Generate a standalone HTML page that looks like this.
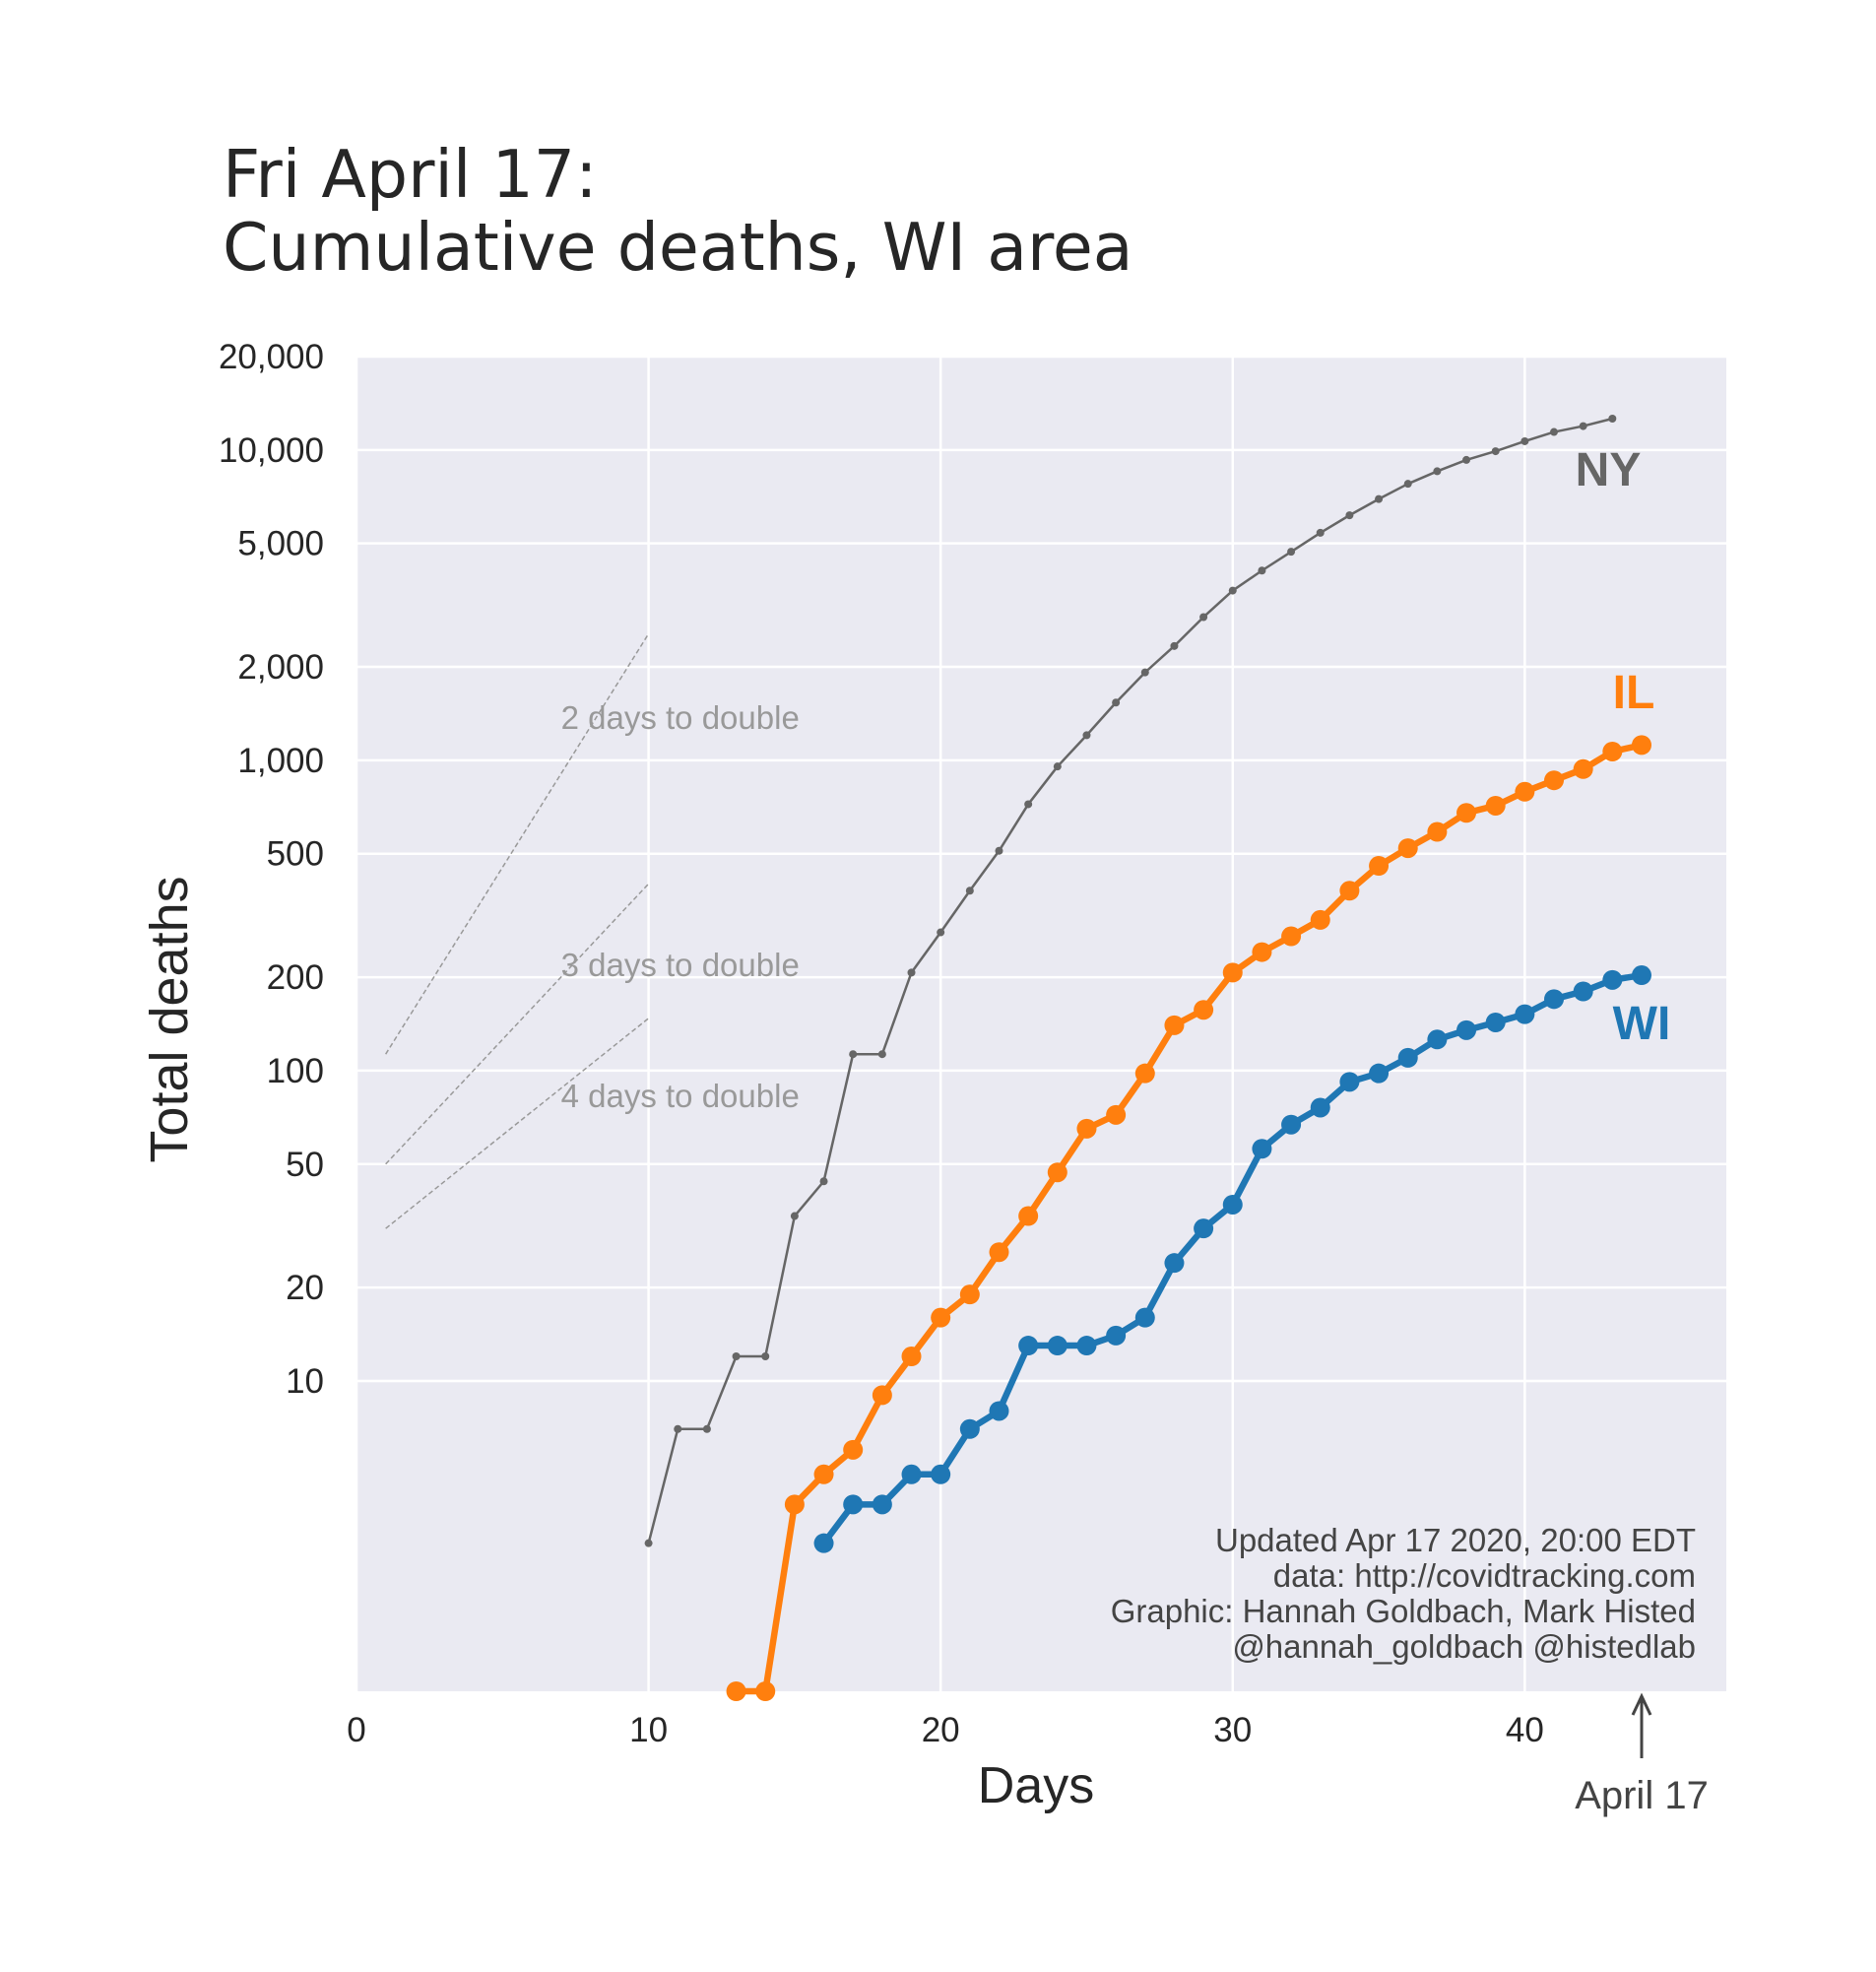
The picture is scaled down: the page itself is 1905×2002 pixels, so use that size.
<!DOCTYPE html>
<html><head><meta charset="utf-8"><style>
html,body{margin:0;padding:0;background:#fff;}
svg{display:block;font-family:"Liberation Sans","DejaVu Sans",sans-serif;}
</style></head><body>
<svg id="chart" width="1905" height="2002" viewBox="0 0 1905 2002" xmlns="http://www.w3.org/2000/svg">
<rect width="1905" height="2002" fill="#fff"/>
<text x="226" y="200" font-size="66.5" fill="#262626" font-family="'DejaVu Sans',sans-serif">Fri April 17:</text>
<text x="226" y="274" font-size="66.5" fill="#262626" font-family="'DejaVu Sans',sans-serif">Cumulative deaths, WI area</text>
<rect x="362" y="362" width="1391" height="1355" fill="#eaeaf2"/>
<g id="grid"></g><g id="marks"></g><g id="ticks"></g>
<text transform="translate(190,1035) rotate(-90)" text-anchor="middle" font-size="54" fill="#262626">Total deaths</text>
<text x="1052" y="1830" text-anchor="middle" font-size="52" fill="#262626">Days</text>
<line x1="1667" y1="1785" x2="1667" y2="1724" stroke="#444" stroke-width="3"/>
<path d="M1658 1741 L1667 1722 L1676 1741" fill="none" stroke="#444" stroke-width="3"/>
<text x="1667" y="1836" text-anchor="middle" font-size="40" fill="#444">April 17</text>
<g font-size="33" fill="#444" text-anchor="end">
<text x="1722" y="1575">Updated Apr 17 2020, 20:00 EDT</text>
<text x="1722" y="1611">data: http://covidtracking.com</text>
<text x="1722" y="1647">Graphic: Hannah Goldbach, Mark Histed</text>
<text x="1722" y="1683">@hannah_goldbach @histedlab</text>
</g>
</svg>
<script>
const nyDays=[10,11,12,13,14,15,16,17,18,19,20,21,22,23,24,25,26,27,28,29,30,31,32,33,34,35,36,37,38,39,40,41,42,43];
const nyVals=[3,7,7,12,12,34,44,113,113,207,279,380,511,722,955,1205,1535,1920,2335,2894,3523,4087,4700,5410,6160,6950,7780,8540,9290,9910,10670,11430,11940,12620];
const ilDays=[13,14,15,16,17,18,19,20,21,22,23,24,25,26,27,28,29,30,31,32,33,34,35,36,37,38,39,40,41,42,43,44];
const ilVals=[1,1,4,5,6,9,12,16,19,26,34,47,65,72,98,140,157,207,241,271,306,380,457,521,588,677,714,792,862,937,1067,1120];
const wiDays=[16,17,18,19,20,21,22,23,24,25,26,27,28,29,30,31,32,33,34,35,36,37,38,39,40,41,42,43,44];
const wiVals=[3,4,4,5,5,7,8,13,13,13,14,16,24,31,37,56,67,76,92,98,110,126,135,143,152,170,180,196,203];
const xTicks=[0,10,20,30,40];
const yTicks=[10,20,50,100,200,500,1000,2000,5000,10000,20000];
const yTickLabels=["10","20","50","100","200","500","1,000","2,000","5,000","10,000","20,000"];
const doubleDays=[2,3,4];
const doubleStart=[113,50,31];
const L=362,R=1753,T=362,B=1717,XMAX=46.9,YMAX=Math.log10(20000);
const X=d=>L+d/XMAX*(R-L);
const Y=v=>B-Math.log10(v)/YMAX*(B-T);
const NS="http://www.w3.org/2000/svg";
function mk(tag,attrs,parent,text){const e=document.createElementNS(NS,tag);for(const k in attrs)e.setAttribute(k,attrs[k]);if(text!==undefined)e.textContent=text;parent.appendChild(e);return e;}
const grid=document.getElementById('grid'),marks=document.getElementById('marks'),ticks=document.getElementById('ticks');
xTicks.forEach(d=>{
 const g=mk('line',{x1:X(d),x2:X(d),y1:T,y2:B,stroke:'#fff','stroke-width':2.5},grid);
 
 
 const t=mk('text',{x:X(d),y:1768,'text-anchor':'middle','font-size':35,fill:'#262626'},ticks,String(d));
 
 
});
yTicks.forEach((v,i)=>{
 const g=mk('line',{x1:L,x2:R,y1:Y(v),y2:Y(v),stroke:'#fff','stroke-width':2.5},grid);
 
 
 const t=mk('text',{x:329,y:Y(v)+12,'text-anchor':'end','font-size':35,fill:'#262626'},ticks,yTickLabels[i]);
 
 
});
const labelY={2:740,3:991,4:1124};
doubleDays.forEach((dd,i)=>{
 const v0=doubleStart[i],v1=v0*Math.pow(2,9/dd);
 const l=mk('line',{x1:X(1),y1:Y(v0),x2:X(10),y2:Y(v1),stroke:'#999','stroke-width':1.5,'stroke-dasharray':'5,3'},marks);
 
 
 const t=mk('text',{x:X(7),y:labelY[dd],'font-size':33,fill:'#999'},marks,dd+' days to double');
 
 
});
function series(days,vals,color,lw,r,name){
 const pts=days.map((d,i)=>X(d)+','+Y(vals[i])).join(' ');
 const p=mk('polyline',{points:pts,fill:'none',stroke:color,'stroke-width':lw,'stroke-linejoin':'round'},marks);
 
 
 days.forEach((d,i)=>{
  const c=mk('circle',{cx:X(d),cy:Y(vals[i]),r:r,fill:color},marks);
  
  
 });
}
series(nyDays,nyVals,'#666',2.5,4,'ny');
series(ilDays,ilVals,'#ff7f0e',6.5,10,'il');
series(wiDays,wiVals,'#1f77b4',6.5,10,'wi');
const labs=[['NY','#666',1633,493],['IL','#ff7f0e',1659,719],['WI','#1f77b4',1667,1055]];
labs.forEach(a=>{
 const t=mk('text',{x:a[2],y:a[3],'text-anchor':'middle','font-size':48,'font-weight':'bold',fill:a[1]},marks,a[0]);
 
 
});
</script>
</body></html>
